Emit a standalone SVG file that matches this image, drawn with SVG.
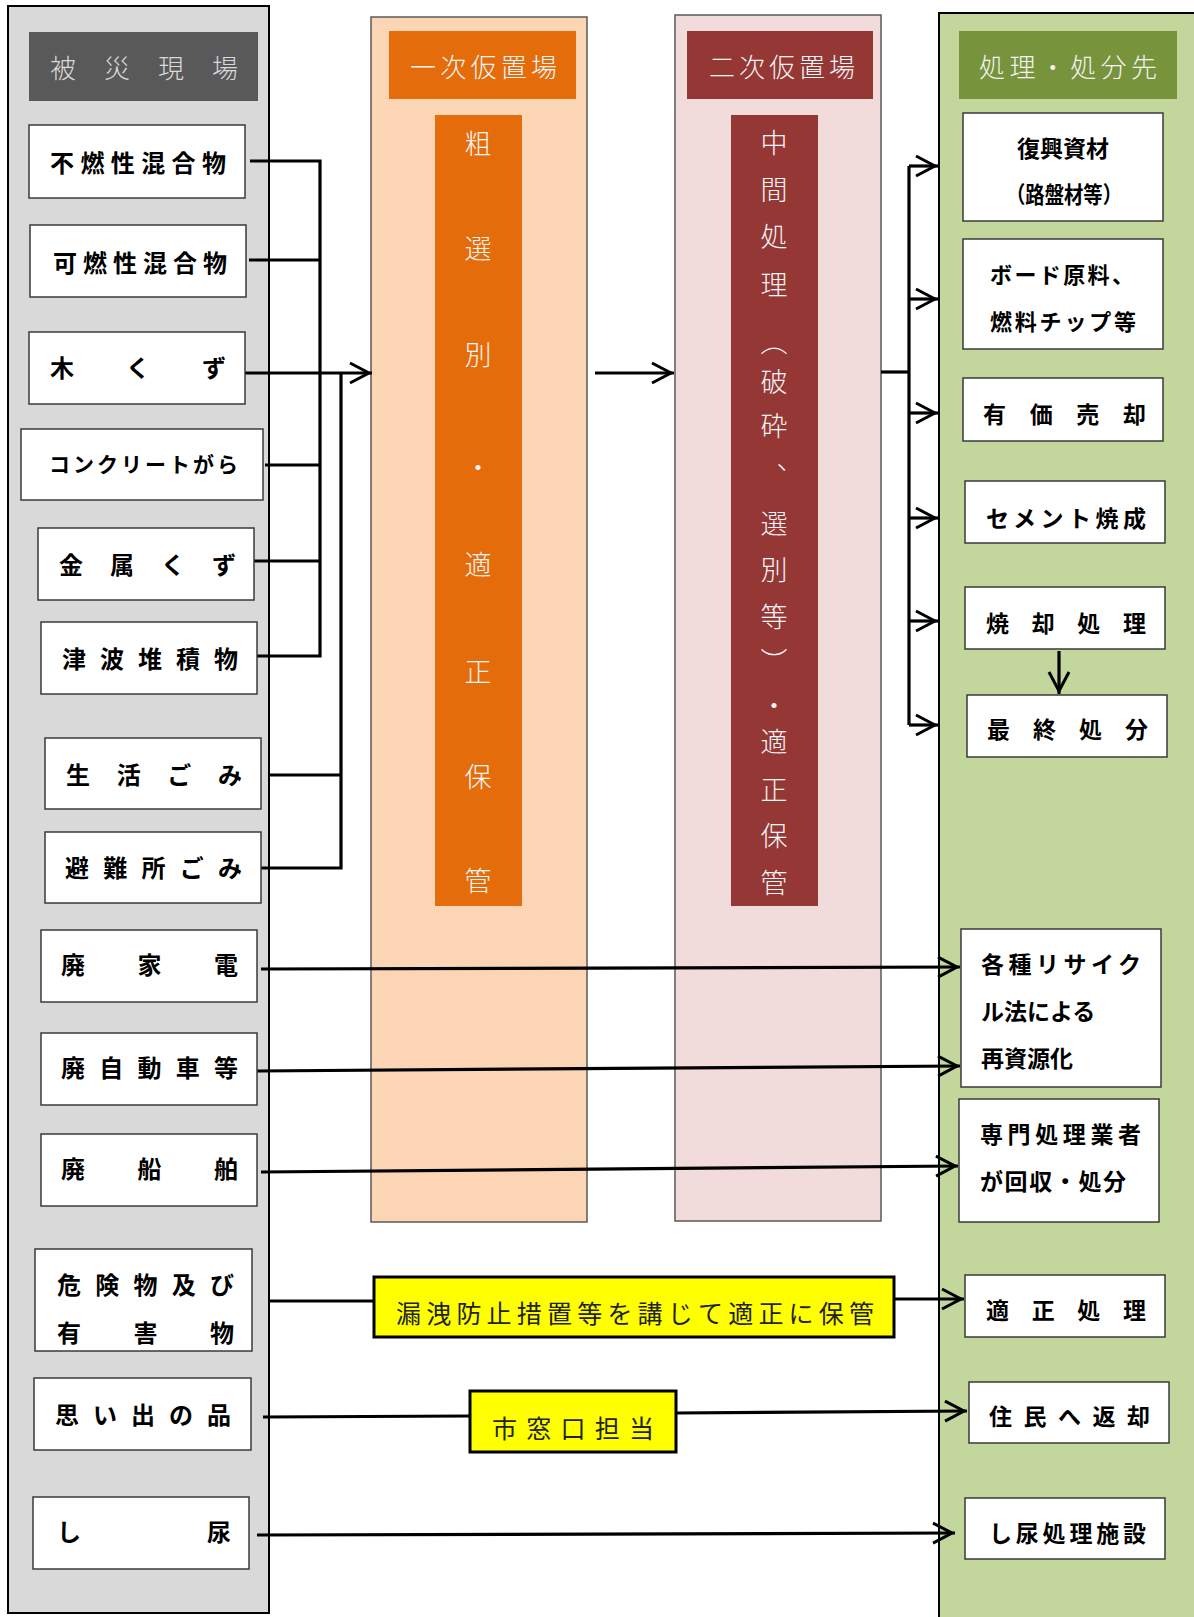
<svg xmlns="http://www.w3.org/2000/svg" width="1194" height="1617" viewBox="0 0 1194 1617">
<style>
text{font-family:"Noto Sans CJK JP","Noto Sans CJK SC",sans-serif;dominant-baseline:central}
.node rect{fill:#fff;stroke:#3a3a3a;stroke-width:1.5}
.lbl{font-size:24px;font-weight:700;fill:#000}
.rl{font-size:23px;font-weight:700;fill:#000}
.hdr{font-size:26px;font-weight:300;fill:#f4f4f4}
.vt{font-size:27px;font-weight:300;fill:#f4f4f4;text-anchor:middle}
.yl{font-size:25px;font-weight:400;fill:#222}
.conn path{fill:none;stroke:#000;stroke-width:3.2}
.conn .ar{marker-end:url(#ah)}
</style>
<defs>
<marker id="ah" viewBox="-25 -12 27 24" markerWidth="27" markerHeight="24" refX="0" refY="0" orient="auto" markerUnits="userSpaceOnUse">
<path d="M-22,-10 L-3,0 L-22,10" fill="none" stroke="#000" stroke-width="3"/>
</marker>
</defs>

<!-- columns -->
<g id="col-site">
<rect x="8" y="6" width="261" height="1607" fill="#d9d9d9" stroke="#000" stroke-width="2"/>
<rect x="29" y="32" width="229" height="69" fill="#595959"/>
<text class="hdr" x="50" y="66" textLength="188" lengthAdjust="spacing" style="fill:#d9d9d9">被災現場</text>
</g>
<g id="col-primary">
<rect x="371" y="17" width="216" height="1205" fill="#fcd5b5" stroke="#595959" stroke-width="1.5"/>
<rect x="389" y="31" width="187" height="68" fill="#e46c0a"/>
<text class="hdr" x="410" y="65" textLength="147" lengthAdjust="spacing">一次仮置場</text>
<rect x="435" y="115" width="87" height="791" fill="#e46c0a"/>
<text class="vt"><tspan x="478" y="142">粗</tspan><tspan x="478" y="247">選</tspan><tspan x="478" y="353">別</tspan><tspan x="478" y="466">・</tspan><tspan x="478" y="563">適</tspan><tspan x="478" y="670">正</tspan><tspan x="478" y="775">保</tspan><tspan x="478" y="879">管</tspan></text>
</g>
<g id="col-secondary">
<rect x="675" y="15" width="206" height="1206" fill="#f2dcdb" stroke="#595959" stroke-width="1.5"/>
<rect x="687" y="31" width="186" height="68" fill="#953735"/>
<text class="hdr" x="709" y="65" textLength="146" lengthAdjust="spacing">二次仮置場</text>
<rect x="731" y="115" width="87" height="791" fill="#953735"/>
<text class="vt"><tspan x="774" y="141">中</tspan><tspan x="774" y="188">間</tspan><tspan x="774" y="235">処</tspan><tspan x="774" y="283">理</tspan><tspan x="774" y="340">︵</tspan><tspan x="774" y="380">破</tspan><tspan x="774" y="424">砕</tspan><tspan x="790" y="458">、</tspan><tspan x="774" y="522">選</tspan><tspan x="774" y="568">別</tspan><tspan x="774" y="615">等</tspan><tspan x="774" y="660">︶</tspan><tspan x="774" y="704">・</tspan><tspan x="774" y="740">適</tspan><tspan x="774" y="788">正</tspan><tspan x="774" y="834">保</tspan><tspan x="774" y="881">管</tspan></text>
</g>
<g id="col-dest">
<rect x="939" y="13" width="258" height="1620" fill="#c3d69b" stroke="#000" stroke-width="2"/>
<rect x="959" y="31" width="218" height="68" fill="#77933c"/>
<text class="hdr" x="979" y="65" textLength="178" lengthAdjust="spacing">処理・処分先</text>
</g>

<!-- connectors -->
<g id="connectors" class="conn">
<path d="M250,161 H320 V656 H257"/>
<path d="M249,260 H320"/>
<path d="M265,465 H320"/>
<path d="M254,561 H320"/>
<path d="M341,373 V868 H261"/>
<path d="M269,775 H341"/>
<path class="ar" d="M245,373 H372"/>
<path class="ar" d="M595,373 H674"/>
<path d="M881,372 H909"/>
<path d="M909,166 V725"/>
<path class="ar" d="M909,166 H938"/>
<path class="ar" d="M909,299 H938"/>
<path class="ar" d="M909,413 H938"/>
<path class="ar" d="M909,518 H938"/>
<path class="ar" d="M909,621 H938"/>
<path class="ar" d="M909,725 H938"/>
<path class="ar" d="M1059,651 V694"/>
<path class="ar" d="M261,969 L960,967"/>
<path class="ar" d="M257,1071 L960,1066"/>
<path class="ar" d="M261,1172 L958,1166"/>
<path d="M269,1301 H374"/>
<path class="ar" d="M894,1299 H964"/>
<path d="M263,1417 L470,1416"/>
<path class="ar" d="M676,1413 L967,1411"/>
<path class="ar" d="M257,1535 L955,1533"/>
</g>

<!-- source nodes -->
<g id="n-funen" class="node"><rect x="29" y="125" width="216" height="73"/><text class="lbl" x="50" y="161" textLength="176" lengthAdjust="spacing">不燃性混合物</text></g>
<g id="n-kanen" class="node"><rect x="30" y="225" width="216" height="72"/><text class="lbl" x="53" y="261" textLength="174" lengthAdjust="spacing">可燃性混合物</text></g>
<g id="n-mokuzu" class="node"><rect x="29" y="332" width="216" height="72"/><text class="lbl" x="50" y="366" textLength="176" lengthAdjust="spacing">木くず</text></g>
<g id="n-concrete" class="node"><rect x="21" y="429" width="242" height="71"/><text class="lbl" x="49" y="463" style="font-size:21px" textLength="189" lengthAdjust="spacing">コンクリートがら</text></g>
<g id="n-kinzoku" class="node"><rect x="38" y="528" width="216" height="72"/><text class="lbl" x="59" y="563" textLength="177" lengthAdjust="spacing">金属くず</text></g>
<g id="n-tsunami" class="node"><rect x="41" y="622" width="216" height="72"/><text class="lbl" x="62" y="657" textLength="176" lengthAdjust="spacing">津波堆積物</text></g>
<g id="n-seikatsu" class="node"><rect x="45" y="738" width="216" height="71"/><text class="lbl" x="66" y="773" textLength="176" lengthAdjust="spacing">生活ごみ</text></g>
<g id="n-hinan" class="node"><rect x="45" y="832" width="216" height="71"/><text class="lbl" x="65" y="866" textLength="177" lengthAdjust="spacing">避難所ごみ</text></g>
<g id="n-kaden" class="node"><rect x="41" y="930" width="216" height="72"/><text class="lbl" x="61" y="963" textLength="177" lengthAdjust="spacing">廃家電</text></g>
<g id="n-jidosha" class="node"><rect x="41" y="1033" width="216" height="72"/><text class="lbl" x="61" y="1066" textLength="177" lengthAdjust="spacing">廃自動車等</text></g>
<g id="n-sempaku" class="node"><rect x="41" y="1134" width="216" height="72"/><text class="lbl" x="61" y="1167" textLength="177" lengthAdjust="spacing">廃船舶</text></g>
<g id="n-kiken" class="node"><rect x="35" y="1249" width="217" height="102"/><text class="lbl" x="57" y="1283" textLength="177" lengthAdjust="spacing">危険物及び</text><text class="lbl" x="57" y="1331" textLength="177" lengthAdjust="spacing">有害物</text></g>
<g id="n-omoide" class="node"><rect x="34" y="1378" width="217" height="72"/><text class="lbl" x="55" y="1413" textLength="176" lengthAdjust="spacing">思い出の品</text></g>
<g id="n-shinyo" class="node"><rect x="33" y="1497" width="216" height="72"/><text class="lbl" x="57" y="1530" textLength="174" lengthAdjust="spacing">し尿</text></g>

<!-- middle labels -->
<g id="n-roei"><rect x="374" y="1277" width="520" height="60" fill="#ffff00" stroke="#000" stroke-width="3"/><text class="yl" x="396" y="1312" textLength="478" lengthAdjust="spacing">漏洩防止措置等を講じて適正に保管</text></g>
<g id="n-madoguchi"><rect x="470" y="1391" width="206" height="61" fill="#ffff00" stroke="#000" stroke-width="3"/><text class="yl" x="492" y="1427" textLength="162" lengthAdjust="spacing">市窓口担当</text></g>

<!-- destination nodes -->
<g id="n-fukko" class="node"><rect x="963" y="113" width="200" height="108"/><text class="rl" x="1063" y="147" text-anchor="middle">復興資材</text><text class="rl" x="1006" y="193" textLength="116" lengthAdjust="spacingAndGlyphs">（路盤材等）</text></g>
<g id="n-board" class="node"><rect x="963" y="239" width="200" height="110"/><text class="rl" x="990" y="273" style="font-size:22px" textLength="144" lengthAdjust="spacing">ボード原料、</text><text class="rl" x="990" y="320" style="font-size:22px" textLength="146" lengthAdjust="spacing">燃料チップ等</text></g>
<g id="n-yuka" class="node"><rect x="963" y="378" width="200" height="63"/><text class="rl" x="983" y="413" textLength="163" lengthAdjust="spacing">有価売却</text></g>
<g id="n-cement" class="node"><rect x="965" y="481" width="200" height="62"/><text class="rl" x="986" y="517" textLength="160" lengthAdjust="spacing">セメント焼成</text></g>
<g id="n-shokyaku" class="node"><rect x="965" y="587" width="200" height="62"/><text class="rl" x="986" y="622" textLength="160" lengthAdjust="spacing">焼却処理</text></g>
<g id="n-saishu" class="node"><rect x="967" y="695" width="200" height="62"/><text class="rl" x="987" y="728" textLength="161" lengthAdjust="spacing">最終処分</text></g>
<g id="n-recycle" class="node"><rect x="961" y="929" width="200" height="158"/><text class="rl" x="981" y="963" textLength="160" lengthAdjust="spacing">各種リサイク</text><text class="rl" x="981" y="1010">ル法による</text><text class="rl" x="981" y="1057">再資源化</text></g>
<g id="n-senmon" class="node"><rect x="959" y="1099" width="200" height="123"/><text class="rl" x="980" y="1133" textLength="161" lengthAdjust="spacing">専門処理業者</text><text class="rl" x="980" y="1180" textLength="146" lengthAdjust="spacing">が回収・処分</text></g>
<g id="n-tekisei" class="node"><rect x="965" y="1275" width="200" height="62"/><text class="rl" x="986" y="1309" textLength="160" lengthAdjust="spacing">適正処理</text></g>
<g id="n-henkyaku" class="node"><rect x="969" y="1382" width="200" height="61"/><text class="rl" x="989" y="1415" textLength="161" lengthAdjust="spacing">住民へ返却</text></g>
<g id="n-shinyoshisetsu" class="node"><rect x="965" y="1498" width="200" height="61"/><text class="rl" x="989" y="1532" textLength="157" lengthAdjust="spacing">し尿処理施設</text></g>
</svg>
